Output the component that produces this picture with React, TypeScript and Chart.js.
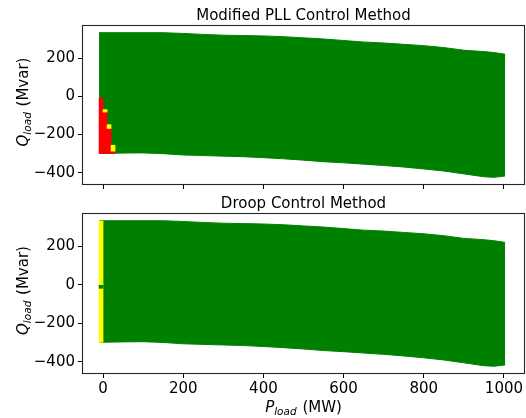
import React, { useEffect, useRef } from "react";
import { Chart, registerables } from "chart.js";

Chart.register(...registerables);

// ---- axes ----
const X_TICKS = [0, 200, 400, 600, 800, 1000];
const Y_TICKS = [-400, -200, 0, 200];
const X_MIN = -50;
const X_MAX = 1050;
const Y_MIN = -459;
const Y_MAX = 369;

// ---- operating region boundary (P_load in MW, Q_load in Mvar) ----
const boundaryP = [-10, 50, 100, 150, 200, 250, 300, 350, 400, 450, 500, 550, 600, 650, 700, 750, 800, 850, 900, 950, 975, 1003];
const boundaryQmax = [334, 334, 334, 334, 330, 325, 321, 319, 317, 313, 307, 301, 293, 285, 280, 273, 266, 256, 242, 235, 230, 221];
const boundaryQmin = [-299, -297, -296, -300, -307, -310, -313, -316, -321, -327, -334, -342, -348, -355, -362, -370, -380, -391, -406, -421, -424, -417];

// ---- Modified PLL control: special cells near P = 0 ----
const pllCellP = [-5, 5, 5, 15, 15, 25, 25];
const pllCellQlow = [-299, -299, -82, -299, -168, -299, -287];
const pllCellQhigh = [-9, -82, -69, -168, -148, -287, -256];
const pllCellState = ["unstable", "unstable", "marginal", "unstable", "marginal", "unstable", "marginal"];

// ---- Droop control: special cells near P = 0 ----
const droopCellP = [-5, -5];
const droopCellQlow = [-299, -18];
const droopCellQhigh = [333, 0];
const droopCellState = ["marginal", "stable"];

const STATE_COLORS: Record<string, string> = {
  stable: "#008000",
  marginal: "#ffff00",
  unstable: "#ff0000",
};
const GREEN = "#008000";
const FONT = '"DejaVu Sans", sans-serif';

const fmt = (v: number) => String(v).replace("-", "\u2212");

function drawMathLabel(
  ctx: CanvasRenderingContext2D,
  sym: string,
  sub: string,
  rest: string,
  cx: number,
  cy: number,
  rotate: boolean
) {
  const fMain = `italic 15px ${FONT}`;
  const fSub = `italic 10.5px ${FONT}`;
  const fReg = `15px ${FONT}`;
  ctx.save();
  ctx.font = fMain;
  const w1 = ctx.measureText(sym).width;
  ctx.font = fSub;
  const w2 = ctx.measureText(sub).width + 1;
  ctx.font = fReg;
  const w3 = ctx.measureText(rest).width;
  ctx.translate(cx, cy);
  if (rotate) ctx.rotate(-Math.PI / 2);
  ctx.fillStyle = "#000";
  ctx.textBaseline = "alphabetic";
  ctx.textAlign = "left";
  let x = -(w1 + w2 + w3) / 2;
  ctx.font = fMain;
  ctx.fillText(sym, x, 0);
  x += w1;
  ctx.font = fSub;
  ctx.fillText(sub, x, 3.3);
  x += w2;
  ctx.font = fReg;
  ctx.fillText(rest, x, 0);
  ctx.restore();
}

type PanelProps = {
  title: string;
  cellP: number[];
  cellLow: number[];
  cellHigh: number[];
  cellState: string[];
  showXLabels: boolean;
  top: number;
  height: number;
  xAxisHeight: number;
};

function Panel(props: PanelProps) {
  const ref = useRef<HTMLCanvasElement>(null);
  useEffect(() => {
    const canvas = ref.current;
    if (!canvas) return;
    const { title, cellP, cellLow, cellHigh, cellState, showXLabels, xAxisHeight } = props;

    const framePlugin = {
      id: "frame",
      afterDraw(chart: any) {
        const { ctx, chartArea: a } = chart;
        ctx.save();
        ctx.strokeStyle = "#262626";
        ctx.lineWidth = 1.1;
        const l = Math.round(a.left) - 0.5;
        const t = Math.round(a.top) - 0.5;
        const r = Math.round(a.right) + 0.5;
        const b = Math.round(a.bottom) + 0.5;
        ctx.strokeRect(l, t, r - l, b - t);
        ctx.restore();
      },
    };

    const textPlugin = {
      id: "texts",
      afterDraw(chart: any) {
        const { ctx, chartArea: a } = chart;
        ctx.save();
        ctx.fillStyle = "#000";
        ctx.font = `15px ${FONT}`;
        ctx.textAlign = "center";
        ctx.textBaseline = "alphabetic";
        ctx.fillText(title, (a.left + a.right) / 2, a.top - 6);
        ctx.restore();
        drawMathLabel(ctx, "Q", "load", " (Mvar)", 27.5, (a.top + a.bottom) / 2 - 3, true);
        if (showXLabels) {
          drawMathLabel(ctx, "P", "load", " (MW)", (a.left + a.right) / 2, a.bottom + 38.5, false);
        }
      },
    };

    const chart = new Chart(canvas, {
      type: "line",
      data: {
        datasets: [
          {
            type: "line",
            data: boundaryP.map((p, i) => ({ x: p, y: boundaryQmax[i] })),
            fill: "+1",
            backgroundColor: GREEN,
            borderColor: GREEN,
            borderWidth: 1,
            pointRadius: 0,
            tension: 0,
            order: 1,
          },
          {
            type: "line",
            data: boundaryP.map((p, i) => ({ x: p, y: boundaryQmin[i] })),
            fill: false,
            backgroundColor: GREEN,
            borderColor: GREEN,
            borderWidth: 1,
            pointRadius: 0,
            tension: 0,
            order: 1,
          },
          {
            type: "bar",
            data: cellP.map((p, i) => ({ x: p, y: [cellLow[i], cellHigh[i]] })),
            backgroundColor: cellState.map((s) => STATE_COLORS[s]),
            borderWidth: 0,
            barThickness: 4,
            grouped: false,
            order: 0,
          } as any,
        ],
      },
      options: {
        responsive: false,
        animation: false,
        events: [],
        layout: { padding: { top: 26, right: 2, left: 0, bottom: 0 } },
        plugins: {
          legend: { display: false },
          tooltip: { enabled: false },
          title: { display: false },
        },
        scales: {
          x: {
            type: "linear",
            min: X_MIN,
            max: X_MAX,
            offset: false,
            afterBuildTicks: (s: any) => {
              s.ticks = X_TICKS.map((v) => ({ value: v }));
            },
            afterFit: (s: any) => {
              s.height = xAxisHeight;
            },
            grid: {
              offset: false,
              drawOnChartArea: false,
              drawTicks: true,
              tickLength: 5,
              tickColor: "#000",
              tickWidth: 1,
            },
            border: { display: false },
            ticks: {
              display: showXLabels,
              font: { family: FONT, size: 15 },
              color: "#000",
              padding: 2,
              maxRotation: 0,
              autoSkip: false,
              callback: (v: any) => fmt(Number(v)),
            },
          },
          y: {
            type: "linear",
            min: Y_MIN,
            max: Y_MAX,
            afterBuildTicks: (s: any) => {
              s.ticks = Y_TICKS.map((v) => ({ value: v }));
            },
            afterFit: (s: any) => {
              s.width = 83;
            },
            grid: {
              offset: false,
              drawOnChartArea: false,
              drawTicks: true,
              tickLength: 5,
              tickColor: "#000",
              tickWidth: 1,
            },
            border: { display: false },
            ticks: {
              font: { family: FONT, size: 15 },
              color: "#000",
              padding: 3,
              autoSkip: false,
              callback: (v: any) => fmt(Number(v)),
            },
          },
        },
      } as any,
      plugins: [framePlugin, textPlugin],
    });
    return () => chart.destroy();
  }, []);
  return (
    <canvas
      ref={ref}
      width={526}
      height={props.height}
      style={{ position: "absolute", left: 0, top: props.top, width: 526, height: props.height, display: "block" }}
    />
  );
}

export default function App() {
  return (
    <div style={{ position: "fixed", left: 0, top: 0, width: 526, height: 418, background: "#fff", overflow: "hidden" }}>
      <Panel
        title="Modified PLL Control Method"
        cellP={pllCellP}
        cellLow={pllCellQlow}
        cellHigh={pllCellQhigh}
        cellState={pllCellState}
        showXLabels={false}
        top={0}
        height={200}
        xAxisHeight={16}
      />
      <Panel
        title="Droop Control Method"
        cellP={droopCellP}
        cellLow={droopCellQlow}
        cellHigh={droopCellQhigh}
        cellState={droopCellState}
        showXLabels={true}
        top={188}
        height={230}
        xAxisHeight={45}
      />
    </div>
  );
}
